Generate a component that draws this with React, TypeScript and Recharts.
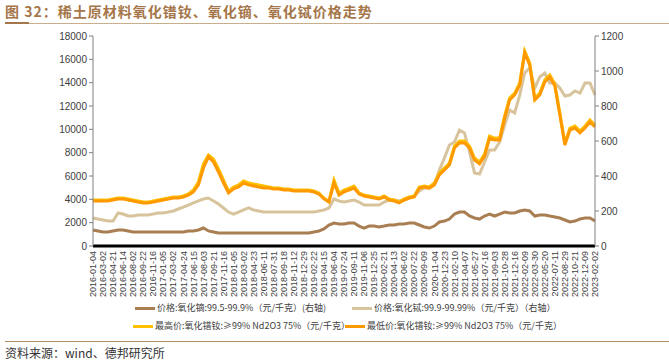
import React from "react";
import { LineChart, Line, XAxis, YAxis } from "recharts";

const dateLabels = [
  "2016-01-04","2016-03-02","2016-04-21","2016-06-14","2016-08-02","2016-09-22","2016-11-16",
  "2017-01-05","2017-03-02","2017-04-24","2017-06-15","2017-08-03","2017-09-21","2017-11-16",
  "2018-01-05","2018-03-02","2018-04-23","2018-06-11","2018-07-31","2018-09-18","2018-11-12","2018-12-29",
  "2019-02-22","2019-04-15","2019-06-04","2019-07-24","2019-09-11","2019-11-06","2019-12-25",
  "2020-02-21","2020-04-13","2020-06-02","2020-07-22","2020-09-09","2020-11-04","2020-12-23",
  "2021-02-10","2021-04-07","2021-05-27","2021-07-16","2021-09-03","2021-10-28","2021-12-16",
  "2022-02-09","2022-03-30","2022-05-20","2022-07-11","2022-08-29","2022-10-21","2022-12-09",
  "2023-02-02",
];

// 氧化镝 (drawn against the left scale)
const dyPrice = [
  1370,1290,1200,1200,1290,1370,1370,1290,1200,1200,
  1200,1200,1200,1200,1200,1200,1200,1200,1200,1290,
  1290,1370,1540,1290,1200,1110,1110,1110,1110,1110,
  1110,1110,1110,1110,1110,1110,1110,1110,1110,1110,
  1110,1110,1110,1110,1200,1290,1460,1800,1970,1890,
  1890,1970,1970,1710,1540,1710,1710,1630,1710,1800,
  1800,1890,1890,1970,1970,1800,1630,1540,1710,2060,
  2140,2310,2740,2910,2910,2570,2400,2310,2570,2740,
  2570,2740,2910,2830,2830,3000,3090,3000,2570,2660,
  2660,2570,2490,2400,2230,2060,2140,2310,2400,2400,
  2140,
];

// 氧化铽 (drawn against the left scale)
const tbPrice = [
  2400,2310,2230,2140,2140,2830,2740,2570,2570,2660,
  2660,2660,2740,2830,2830,2910,3000,3170,3340,3510,
  3690,3860,4030,4110,3860,3600,3260,2910,2740,2910,
  3090,3260,3090,3000,2910,2910,2910,2910,2910,2910,
  2910,2910,2910,2910,2910,3000,3090,3260,4030,3860,
  3770,3860,3940,3770,3510,3510,3510,3510,3770,3940,
  3940,3860,3940,4110,4290,4710,4970,4970,5310,6510,
  7540,8660,8910,9940,9690,8060,6260,6170,7200,8230,
  8230,8910,10370,11660,11400,12940,14830,15260,13540,14490,
  14830,13970,13970,13540,12860,12940,13290,13110,13970,13970,
  12940,
];

// 氧化镨钕 最高价 (right scale)
const prndHigh = [
  263,263,263,263,269,274,274,269,263,257,
  251,251,257,263,269,274,280,280,286,297,
  320,366,469,520,497,440,377,314,337,349,
  371,360,354,349,343,337,331,331,326,326,
  320,320,320,320,314,303,274,257,377,303,
  320,331,343,303,291,286,280,274,286,269,
  263,251,269,280,286,337,343,337,360,417,
  446,474,571,600,600,571,503,480,526,629,
  617,617,743,846,874,931,1114,1046,846,874,
  949,977,926,760,589,674,686,657,686,720,
  691,
];

// 氧化镨钕 最低价 (right scale)
const prndLow = [
  257,257,257,257,263,269,269,263,257,251,
  246,246,251,257,263,269,274,274,280,291,
  309,349,446,509,480,423,360,303,326,337,
  360,349,343,337,331,331,326,326,320,320,
  314,314,314,314,309,297,269,251,360,291,
  309,320,331,297,286,280,274,269,280,263,
  257,246,263,274,280,331,337,331,349,406,
  434,463,560,589,589,560,491,469,514,617,
  606,606,731,834,863,920,1103,1034,834,863,
  937,966,914,749,577,663,674,646,674,709,
  680,
];

const leftTicks = [0, 2000, 4000, 6000, 8000, 10000, 12000, 14000, 16000, 18000];
const rightTicks = [0, 200, 400, 600, 800, 1000, 1200];

const data = dyPrice.map((v, i) => ({
  i,
  dy: v,
  tb: tbPrice[i],
  hi: prndHigh[i],
  lo: prndLow[i],
}));

const xTicks = dateLabels.map((_, k) => k * 2);

const legendItems = [
  { key: "dy", color: "#A87E52", label: "价格:氧化镝:99.5-99.9%（元/千克）(右轴)", left: 135, top: 302 },
  { key: "tb", color: "#D8C49C", label: "价格:氧化铽:99.9-99.99%（元/千克）（右轴）", left: 352, top: 302 },
  { key: "hi", color: "#FFC000", label: "最高价:氧化镨钕:≥99% Nd2O3 75%（元/千克）", left: 133, top: 320 },
  { key: "lo", color: "#FF9900", label: "最低价:氧化镨钕:≥99% Nd2O3 75%（元/千克）", left: 345, top: 320 },
];

const tickFont = "'Liberation Sans', Arial, sans-serif";
const cjkFont = "'Noto Sans CJK SC', 'Liberation Sans', sans-serif";

const XTick = (props: any) => {
  const { x, payload } = props;
  const label = dateLabels[Math.round(payload.value / 2)];
  return (
    <text
      x={0}
      y={0}
      transform={`translate(${x},251) rotate(-90)`}
      textAnchor="end"
      dy="0.35em"
      fontSize={9}
      fill="#404040"
      fontFamily={tickFont}
    >
      {label}
    </text>
  );
};

export default function App() {
  return (
    <div style={{ position: "absolute", left: 0, top: 0, width: 669, height: 361, background: "#fff", overflow: "hidden" }}>
      <div
        style={{
          position: "absolute",
          left: 5,
          top: 2,
          fontSize: 14,
          fontWeight: 700,
          color: "#A5764A",
          fontFamily: cjkFont,
          whiteSpace: "nowrap",
          letterSpacing: 1,
          lineHeight: "18px",
        }}
      >
        图 32：稀土原材料氧化镨钕、氧化镝、氧化铽价格走势
      </div>
      <div style={{ position: "absolute", left: 5, top: 23, width: 664, height: 1, background: "#C9AE8C" }} />
      <div style={{ position: "absolute", left: 5, top: 22, width: 24, height: 2, background: "#A5764A" }} />
      <div style={{ position: "absolute", left: 0, top: 0 }}>
        <LineChart
          width={669}
          height={340}
          data={data}
          margin={{ top: 36, right: 0, bottom: 40, left: 0 }}
        >
          <XAxis
            dataKey="i"
            type="number"
            domain={[0, 100]}
            ticks={xTicks}
            interval={0}
            tick={<XTick />}
            tickLine={false}
            axisLine={{ stroke: "#000", strokeWidth: 3 }}
            height={54}
          />
          <YAxis
            yAxisId="left"
            orientation="left"
            domain={[0, 18000]}
            ticks={leftTicks}
            width={93}
            tickSize={4}
            axisLine={{ stroke: "#808080" }}
            tickLine={{ stroke: "#808080" }}
            tick={{ fontSize: 10, fill: "#404040", fontFamily: tickFont }}
          />
          <YAxis
            yAxisId="right"
            orientation="right"
            domain={[0, 1200]}
            ticks={rightTicks}
            width={74}
            tickSize={4}
            axisLine={{ stroke: "#808080" }}
            tickLine={{ stroke: "#808080" }}
            tick={{ fontSize: 10, fill: "#404040", fontFamily: tickFont, textAnchor: "start" }}
          />
          <Line yAxisId="left" type="linear" dataKey="dy" stroke="#A87E52" strokeWidth={3} dot={false} isAnimationActive={false} />
          <Line yAxisId="left" type="linear" dataKey="tb" stroke="#D8C49C" strokeWidth={3} dot={false} isAnimationActive={false} />
          <Line yAxisId="right" type="linear" dataKey="hi" stroke="#FFC000" strokeWidth={3} dot={false} isAnimationActive={false} />
          <Line yAxisId="right" type="linear" dataKey="lo" stroke="#FF9900" strokeWidth={3} dot={false} isAnimationActive={false} />
        </LineChart>
      </div>
      {legendItems.map((it) => (
        <div
          key={it.key}
          style={{
            position: "absolute",
            left: it.left,
            top: it.top,
            display: "flex",
            alignItems: "center",
            whiteSpace: "nowrap",
            height: 12,
          }}
        >
          <span style={{ display: "inline-block", width: 20, height: 3, background: it.color, marginRight: 2 }} />
          <span style={{ fontSize: 9, lineHeight: "12px", color: "#404040", fontFamily: cjkFont }}>{it.label}</span>
        </div>
      ))}
      <div style={{ position: "absolute", left: 5, top: 341, width: 664, height: 1, background: "#B08A62" }} />
      <div
        style={{
          position: "absolute",
          left: 5,
          top: 345,
          fontSize: 12,
          lineHeight: "15px",
          color: "#333",
          fontFamily: cjkFont,
          whiteSpace: "nowrap",
        }}
      >
        资料来源：wind、德邦研究所
      </div>
    </div>
  );
}
